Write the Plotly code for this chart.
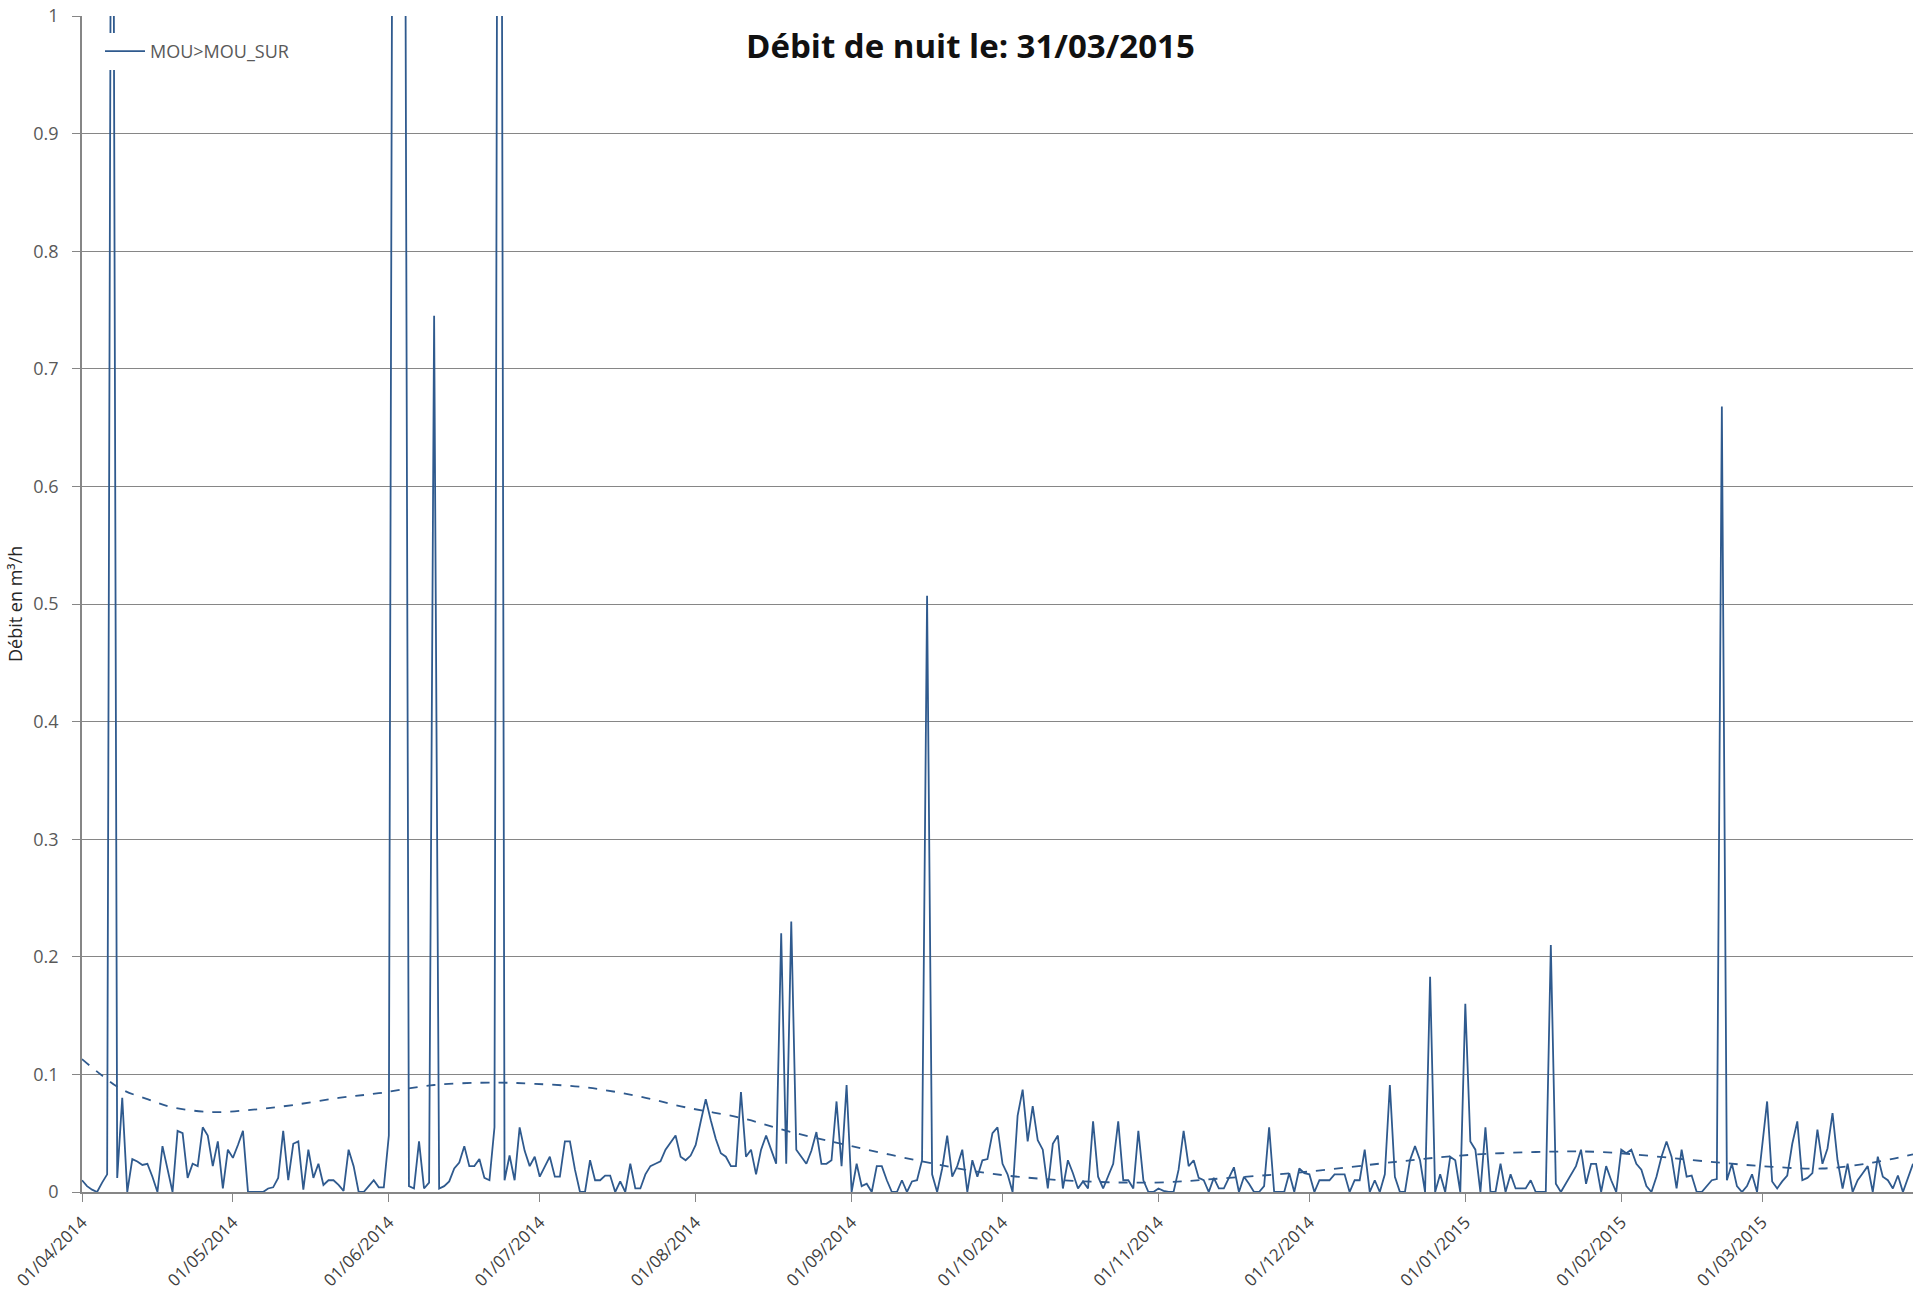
import pandas as pd
import plotly.graph_objects as go

# Daily night flow (m3/h), 01/04/2014 -> 31/03/2015, read month by month
apr_2014 = [0.010, 0.005, 0.002, 0.000, 0.008, 0.015, 1.500, 0.012, 0.080, 0.000,
            0.028, 0.026, 0.023, 0.024, 0.013, 0.000, 0.039, 0.019, 0.000, 0.052,
            0.050, 0.012, 0.024, 0.022, 0.055, 0.048, 0.022, 0.043, 0.003, 0.036]
may_2014 = [0.029, 0.040, 0.052, 0.000, 0.000, 0.000, 0.000, 0.003, 0.004, 0.012,
            0.052, 0.010, 0.041, 0.043, 0.002, 0.036, 0.012, 0.024, 0.006, 0.010,
            0.010, 0.006, 0.001, 0.036, 0.022, 0.000, 0.000, 0.005, 0.010, 0.004,
            0.004]
jun_2014 = [0.048, 1.600, 1.800, 1.500, 0.005, 0.003, 0.043, 0.003, 0.008, 0.745,
            0.003, 0.005, 0.009, 0.020, 0.025, 0.039, 0.022, 0.022, 0.028, 0.012,
            0.010, 0.055, 2.000, 0.010, 0.031, 0.010, 0.055, 0.035, 0.022, 0.030]
jul_2014 = [0.013, 0.022, 0.030, 0.013, 0.013, 0.043, 0.043, 0.019, 0.000, 0.000,
            0.027, 0.010, 0.010, 0.014, 0.014, 0.000, 0.009, 0.000, 0.024, 0.003,
            0.003, 0.015, 0.022, 0.024, 0.026, 0.036, 0.042, 0.048, 0.030, 0.027,
            0.031]
aug_2014 = [0.040, 0.060, 0.079, 0.061, 0.045, 0.033, 0.030, 0.022, 0.022, 0.085,
            0.030, 0.036, 0.015, 0.036, 0.048, 0.036, 0.024, 0.220, 0.024, 0.230,
            0.036, 0.030, 0.024, 0.035, 0.051, 0.024, 0.024, 0.027, 0.077, 0.022,
            0.091]
sep_2014 = [0.000, 0.024, 0.005, 0.007, 0.000, 0.022, 0.022, 0.010, 0.000, 0.000,
            0.010, 0.000, 0.009, 0.010, 0.027, 0.507, 0.015, 0.000, 0.020, 0.048,
            0.013, 0.022, 0.036, 0.000, 0.027, 0.013, 0.027, 0.028, 0.050, 0.055]
oct_2014 = [0.024, 0.015, 0.000, 0.065, 0.087, 0.043, 0.073, 0.044, 0.036, 0.003,
            0.041, 0.048, 0.003, 0.027, 0.016, 0.003, 0.009, 0.003, 0.060, 0.013,
            0.003, 0.013, 0.024, 0.060, 0.010, 0.010, 0.003, 0.052, 0.010, 0.000,
            0.000]
nov_2014 = [0.003, 0.001, 0.000, 0.000, 0.019, 0.052, 0.022, 0.027, 0.012, 0.010,
            0.000, 0.012, 0.003, 0.003, 0.012, 0.021, 0.000, 0.013, 0.007, 0.000,
            0.000, 0.005, 0.055, 0.000, 0.000, 0.000, 0.016, 0.000, 0.020, 0.016]
dec_2014 = [0.015, 0.000, 0.010, 0.010, 0.010, 0.015, 0.015, 0.015, 0.000, 0.010,
            0.010, 0.036, 0.000, 0.010, 0.000, 0.015, 0.091, 0.013, 0.000, 0.000,
            0.027, 0.039, 0.027, 0.000, 0.183, 0.000, 0.015, 0.000, 0.030, 0.027,
            0.000]
jan_2015 = [0.160, 0.043, 0.036, 0.000, 0.055, 0.000, 0.000, 0.024, 0.000, 0.015,
            0.003, 0.003, 0.003, 0.010, 0.000, 0.000, 0.000, 0.210, 0.007, 0.000,
            0.007, 0.014, 0.022, 0.036, 0.007, 0.024, 0.024, 0.000, 0.022, 0.010,
            0.000]
feb_2015 = [0.036, 0.033, 0.036, 0.024, 0.019, 0.005, 0.000, 0.013, 0.030, 0.043,
            0.030, 0.003, 0.036, 0.013, 0.014, 0.000, 0.000, 0.005, 0.010, 0.011,
            0.668, 0.010, 0.024, 0.005, 0.000, 0.005, 0.015, 0.000]
mar_2015 = [0.036, 0.077, 0.009, 0.003, 0.009, 0.014, 0.041, 0.060, 0.010, 0.012,
            0.016, 0.053, 0.024, 0.037, 0.067, 0.027, 0.003, 0.024, 0.000, 0.010,
            0.016, 0.022, 0.000, 0.030, 0.013, 0.010, 0.003, 0.014, 0.000, 0.012,
            0.024]

flow = (apr_2014 + may_2014 + jun_2014 + jul_2014 + aug_2014 + sep_2014 +
        oct_2014 + nov_2014 + dec_2014 + jan_2015 + feb_2015 + mar_2015)
dates = pd.date_range("2014-04-01", "2015-03-31", freq="D")
assert len(flow) == len(dates)

# Trend line (dashed) read at a few dates
trend_dates = ["2014-04-01", "2014-04-05", "2014-04-09", "2014-04-14", "2014-04-19",
               "2014-04-27", "2014-05-05", "2014-05-13", "2014-05-22", "2014-05-30",
               "2014-06-10", "2014-06-22", "2014-06-30", "2014-07-10", "2014-07-20",
               "2014-07-30", "2014-08-10", "2014-08-20", "2014-09-01", "2014-09-15",
               "2014-09-28", "2014-10-13", "2014-10-31", "2014-11-15", "2014-11-30",
               "2014-12-19", "2014-12-31", "2015-01-15", "2015-01-28", "2015-02-18",
               "2015-03-01", "2015-03-13", "2015-03-23", "2015-03-31"]
trend_values = [0.113, 0.099, 0.087, 0.079, 0.072,
                0.068, 0.070, 0.074, 0.080, 0.084,
                0.091, 0.093, 0.092, 0.089, 0.082,
                0.072, 0.063, 0.051, 0.039, 0.026,
                0.016, 0.010, 0.008, 0.012, 0.017,
                0.026, 0.031, 0.034, 0.034, 0.026,
                0.022, 0.020, 0.025, 0.032]

title_text = "Débit de nuit le: 31/03/2015"
series_name = "MOU>MOU_SUR"
y_title = "Débit en m³/h"

W, H = 1913, 1298
ML, MR, MT, MB = 82, 0, 16, 106
PW, PH = W - ML - MR, H - MT - MB

line_color = "#2F5A8E"
grid_color = "#868686"
text_color = "#595959"
FONT = "Open Sans, Noto Sans, sans-serif"

fig = go.Figure()
fig.add_trace(go.Scatter(
    x=dates, y=flow, mode="lines", name=series_name,
    line=dict(color=line_color, width=1.8),
))
fig.add_trace(go.Scatter(
    x=pd.to_datetime(trend_dates), y=trend_values, mode="lines",
    line=dict(color=line_color, width=1.8, dash="dash", shape="spline", smoothing=1.0),
    showlegend=False, hoverinfo="skip",
))

fig.update_layout(
    width=W, height=H,
    margin=dict(l=ML, r=MR, t=MT, b=MB, autoexpand=False),
    paper_bgcolor="white", plot_bgcolor="white",
    font=dict(family=FONT, color=text_color, size=18),
    legend=dict(
        x=(100 - ML) / PW, y=1 - (33 - MT) / PH, xanchor="left", yanchor="top",
        bgcolor="white", borderwidth=0, itemwidth=40,
        font=dict(size=18, color=text_color),
    ),
    showlegend=True,
)
fig.add_annotation(
    text="<b>" + title_text + "</b>",
    xref="paper", yref="paper", x=(970 - ML) / PW, y=1 - (46 - MT) / PH,
    xanchor="center", yanchor="middle", showarrow=False,
    font=dict(size=33, color="#111111", family=FONT),
)
fig.add_annotation(
    text=y_title, textangle=-90,
    xref="paper", yref="paper", x=(15 - ML) / PW, y=0.5,
    xanchor="center", yanchor="middle", showarrow=False,
    font=dict(size=18, color="#262626", family=FONT),
)

fig.update_xaxes(
    range=[dates[0], dates[-1]], automargin=False,
    tickformat="%d/%m/%Y", dtick="M1", tick0="2014-04-01",
    tickangle=-45, ticks="outside", ticklen=8, tickcolor=grid_color,
    ticklabelstandoff=4,
    showgrid=False, showline=True, linecolor=grid_color, linewidth=1.5,
    tickfont=dict(size=17, color="#404040"),
)
fig.update_yaxes(
    range=[0, 1], dtick=0.1, tick0=0, automargin=False,
    ticks="outside", ticklen=8, tickcolor=grid_color, ticklabelstandoff=10,
    showgrid=True, gridcolor=grid_color, gridwidth=1,
    zeroline=False, showline=True, linecolor=grid_color, linewidth=1.5,
    tickfont=dict(size=18, color=text_color),
)

fig.write_html("out.html", config={"displayModeBar": False},
               post_script="document.body.style.margin='0';")
